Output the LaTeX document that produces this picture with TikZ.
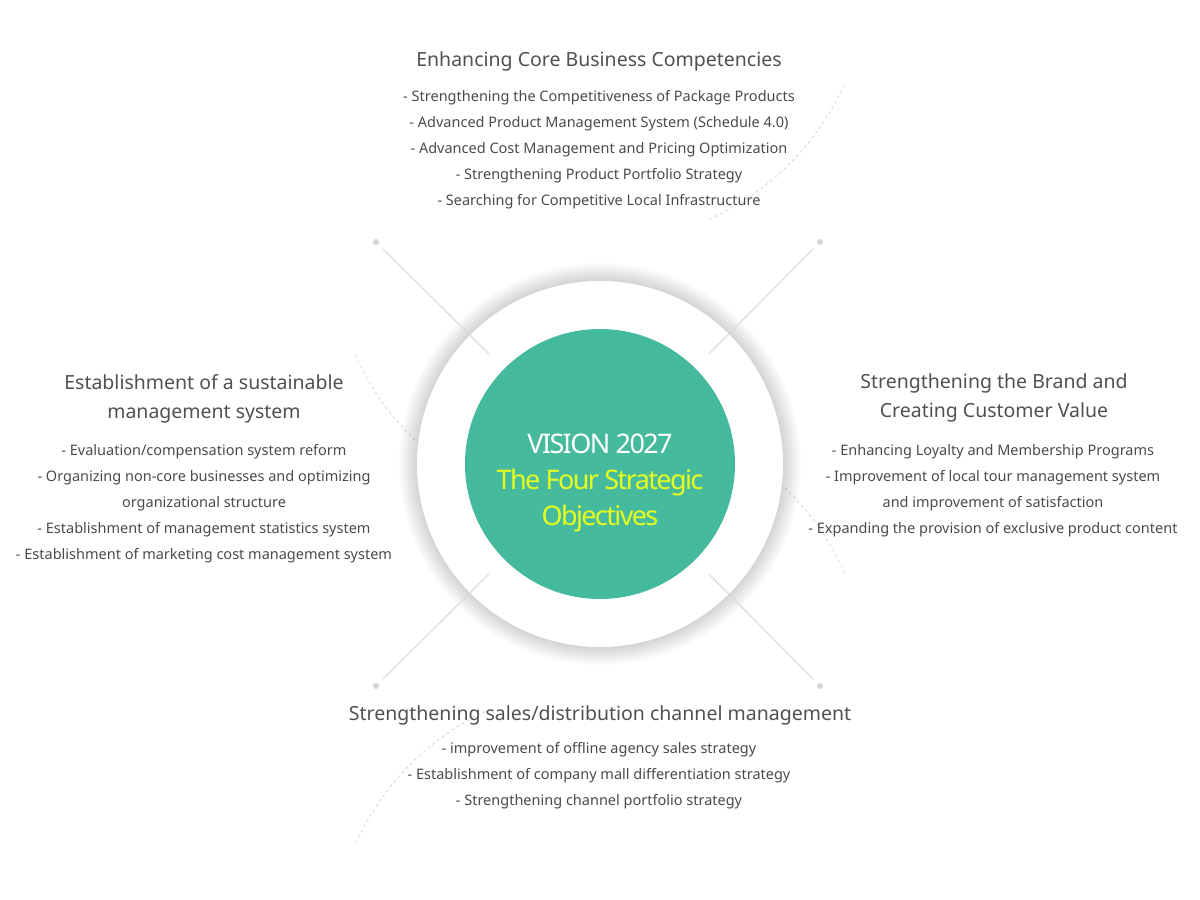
\documentclass[tikz,border=0pt]{standalone}
\usepackage{fontspec}
\setmainfont{Noto Sans}
\definecolor{tgreen}{HTML}{45BA9C}
\definecolor{tyellow}{HTML}{E6FF1E}
\definecolor{ttitle}{HTML}{505050}
\definecolor{titem}{HTML}{4A4A4A}
\definecolor{tline}{HTML}{D6D6D6}
\tikzset{
  ttl/.style={font=\fontsize{19.5}{29}\selectfont\bfseries, text=ttitle, align=center, inner sep=0pt, anchor=north},
  itm/.style={font=\fontsize{14.5}{26}\selectfont, text=titem, align=center, inner sep=0pt, anchor=north},
  spoke/.style={draw=tline, line width=1pt},
  dotc/.style={circle, fill=tline, inner sep=0pt, minimum size=6pt}
}
\begin{document}
\begin{tikzpicture}[x=1pt,y=-1pt]
\useasboundingbox (0,0) rectangle (1200,900);
\coordinate (c) at (600,464);
% dashed ring
\foreach \a in {24,114,204,294}
  \draw[tline, dashed, dash pattern=on 3pt off 3pt, line width=0.8pt] ([shift={(\a:268)}]c) arc[start angle=-\a, end angle=-\a-42, radius=268];
% shadow
\foreach \i in {1,...,14}
  \fill[black, opacity=0.012] (c) circle[radius=183+\i*1.3];
\fill[white] (c) circle[radius=183];
\node[circle, fill=tgreen, minimum size=270pt, inner sep=0pt] (core) at (c) {};
\node[align=center, inner sep=0pt, font=\fontsize{27}{36}\selectfont, text=white] (vis) at (600,444) {\addfontfeature{LetterSpace=-6}VISION 2027};
\node[align=center, inner sep=0pt, font=\fontsize{27}{36}\selectfont, text=tyellow, anchor=north] (obj) at (600,469) {\addfontfeature{LetterSpace=-6}The Four Strategic\\\addfontfeature{LetterSpace=-6}Objectives};
% spokes
\node[dotc] (d1) at (376,242) {};
\node[dotc] (d2) at (820,242) {};
\node[dotc] (d3) at (376,686) {};
\node[dotc] (d4) at (820,686) {};
\coordinate (e1) at (489,354);
\coordinate (e2) at (709,354);
\coordinate (e3) at (489,574);
\coordinate (e4) at (709,574);
\draw[spoke] (383,249) -- (e1);
\draw[spoke] (813,249) -- (e2);
\draw[spoke] (383,679) -- (e3);
\draw[spoke] (813,679) -- (e4);
% top
\node[ttl] (t1) at (599,51) {Enhancing Core Business Competencies};
\node[itm] (i1) at (599,90) {- Strengthening the Competitiveness of Package Products\\- Advanced Product Management System (Schedule 4.0)\\- Advanced Cost Management and Pricing Optimization\\- Strengthening Product Portfolio Strategy\\- Searching for Competitive Local Infrastructure};
% left
\node[ttl] (t2) at (204,374) {Establishment of a sustainable\\management system};
\node[itm] (i2) at (204,444) {- Evaluation/compensation system reform\\- Organizing non-core businesses and optimizing\\organizational structure\\- Establishment of management statistics system\\- Establishment of marketing cost management system};
% right
\node[ttl] (t3) at (994,373) {Strengthening the Brand and\\Creating Customer Value};
\node[itm] (i3) at (993,444) {- Enhancing Loyalty and Membership Programs\\- Improvement of local tour management system\\and improvement of satisfaction\\- Expanding the provision of exclusive product content};
% bottom
\node[ttl] (t4) at (600,705) {Strengthening sales/distribution channel management};
\node[itm] (i4) at (599,742) {- improvement of offline agency sales strategy\\- Establishment of company mall differentiation strategy\\- Strengthening channel portfolio strategy};
\end{tikzpicture}
\end{document}
